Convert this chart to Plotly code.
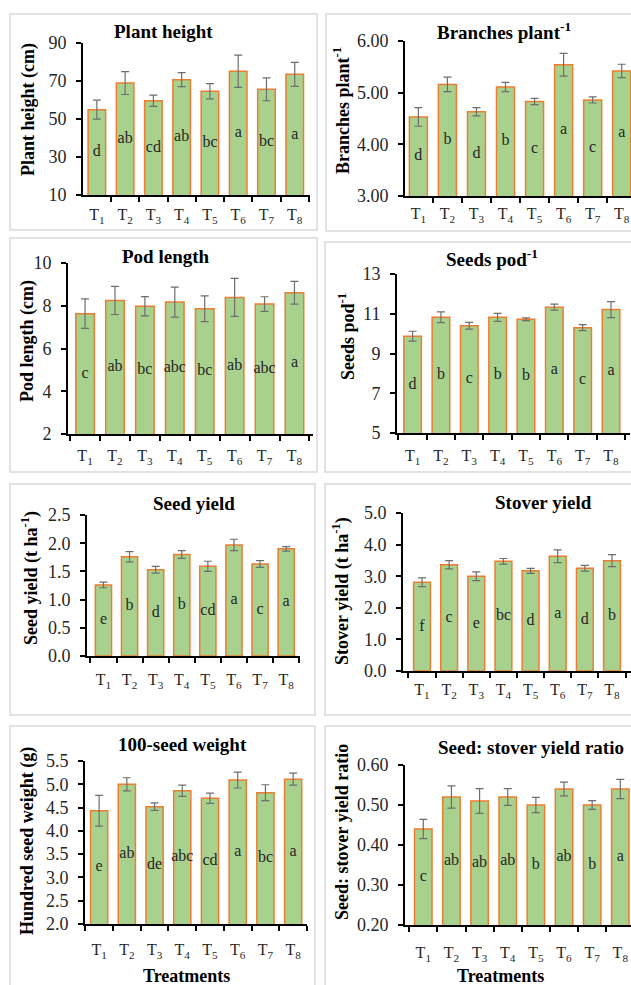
import plotly.graph_objects as go

W, H = 631, 1000
# the photographed page maps figure pixel row y to picture row 9 + 0.98*y
OFF, SCALE = 9.0, 0.98

treatments = ["T1", "T2", "T3", "T4", "T5", "T6", "T7", "T8"]
tick_labels = ["T<sub>1</sub>", "T<sub>2</sub>", "T<sub>3</sub>", "T<sub>4</sub>",
               "T<sub>5</sub>", "T<sub>6</sub>", "T<sub>7</sub>", "T<sub>8</sub>"]

plant_height = [54.9, 68.9, 59.6, 70.7, 64.6, 75.1, 65.6, 73.5]
plant_height_err = [5.0, 6.0, 3.0, 3.7, 4.0, 8.5, 6.0, 6.3]
plant_height_letters = ["d", "ab", "cd", "ab", "bc", "a", "bc", "a"]

branches = [4.53, 5.16, 4.63, 5.11, 4.83, 5.54, 4.86, 5.42]
branches_err = [0.18, 0.14, 0.08, 0.09, 0.06, 0.22, 0.06, 0.13]
branches_letters = ["d", "b", "d", "b", "c", "a", "c", "a"]

pod_length = [7.63, 8.25, 7.98, 8.17, 7.86, 8.39, 8.08, 8.61]
pod_length_err = [0.69, 0.66, 0.45, 0.70, 0.60, 0.89, 0.34, 0.53]
pod_length_letters = ["c", "ab", "bc", "abc", "bc", "ab", "abc", "a"]

seeds_pod = [9.87, 10.82, 10.40, 10.82, 10.72, 11.33, 10.30, 11.21]
seeds_pod_err = [0.25, 0.27, 0.17, 0.20, 0.07, 0.15, 0.15, 0.40]
seeds_pod_letters = ["d", "b", "c", "b", "b", "a", "c", "a"]

seed_yield = [1.26, 1.76, 1.53, 1.80, 1.59, 1.97, 1.63, 1.90]
seed_yield_err = [0.05, 0.09, 0.06, 0.07, 0.09, 0.10, 0.06, 0.04]
seed_yield_letters = ["e", "b", "d", "b", "cd", "a", "c", "a"]

stover_yield = [2.81, 3.36, 3.00, 3.47, 3.17, 3.63, 3.25, 3.49]
stover_yield_err = [0.14, 0.13, 0.14, 0.09, 0.08, 0.20, 0.09, 0.19]
stover_yield_letters = ["f", "c", "e", "bc", "d", "a", "d", "b"]

seed_weight = [4.43, 5.00, 4.52, 4.86, 4.70, 5.09, 4.82, 5.11]
seed_weight_err = [0.33, 0.14, 0.08, 0.12, 0.11, 0.17, 0.17, 0.13]
seed_weight_letters = ["e", "ab", "de", "abc", "cd", "a", "bc", "a"]

ratio = [0.44, 0.52, 0.51, 0.52, 0.50, 0.54, 0.50, 0.54]
ratio_err = [0.024, 0.028, 0.031, 0.021, 0.019, 0.017, 0.011, 0.024]
ratio_letters = ["c", "ab", "ab", "ab", "b", "ab", "b", "a"]

FONT = "Liberation Serif"
FILL = "#a9d18e"
EDGE = "#ed7d31"

panels = [
    dict(title="Plant height", ytitle="Plant height (cm)", y=plant_height, e=plant_height_err,
         lab=plant_height_letters, yr=(10, 90), dt=20, fmt="d",
         px=(83, 310), py=(42, 194), xr=(-0.49, 7.54), box=(10, 13, 317, 229),
         tpos=(163, 30), ypos=(28, 109), standoff=4),
    dict(title="Branches plant<sup>-1</sup>", ytitle="Branches plant<sup>-1</sup>", y=branches, e=branches_err,
         lab=branches_letters, yr=(3, 6), dt=1, fmt=".2f",
         px=(405, 631), py=(40, 195), xr=(-0.46, 7.32), box=(326, 13, 640, 230),
         tpos=(504, 30), ypos=(341, 110), standoff=2),
    dict(title="Pod length", ytitle="Pod length (cm)", y=pod_length, e=pod_length_err,
         lab=pod_length_letters, yr=(2, 10), dt=2, fmt="d",
         px=(68, 313), py=(262, 433), xr=(-0.57, 7.62), box=(10, 237, 317, 471),
         tpos=(166, 255), ypos=(28, 340), standoff=6),
    dict(title="Seeds pod<sup>-1</sup>", ytitle="Seeds pod<sup>-1</sup>", y=seeds_pod, e=seeds_pod_err,
         lab=seeds_pod_letters, yr=(5, 13), dt=2, fmt="d",
         px=(397, 630), py=(273, 432), xr=(-0.55, 7.67), box=(325, 241, 640, 471),
         tpos=(492, 257), ypos=(346, 336), standoff=7),
    dict(title="Seed yield", ytitle="Seed yield (t ha<sup>-1</sup>)", y=seed_yield, e=seed_yield_err,
         lab=seed_yield_letters, yr=(0, 2.5), dt=0.5, fmt=".1f",
         px=(87, 300), py=(514, 655), xr=(-0.63, 7.53), box=(10, 483, 315, 714),
         tpos=(194, 503), ypos=(30, 577), standoff=8),
    dict(title="Stover yield", ytitle="Stover yield (t ha<sup>-1</sup>)", y=stover_yield, e=stover_yield_err,
         lab=stover_yield_letters, yr=(0, 5), dt=1, fmt=".1f",
         px=(403, 631), py=(512, 670), xr=(-0.70, 7.70), box=(325, 483, 640, 714),
         tpos=(543, 501), ypos=(341, 590), standoff=3),
    dict(title="100-seed weight", ytitle="Hundred seed weight (g)", y=seed_weight, e=seed_weight_err,
         lab=seed_weight_letters, yr=(2, 5.5), dt=0.5, fmt=".1f",
         px=(85, 307), py=(760, 923), xr=(-0.51, 7.5), box=(10, 725, 315, 1010),
         tpos=(182, 743), ypos=(27, 840), standoff=10, xtitle=(186, 975)),
    dict(title="Seed: stover yield ratio", ytitle="Seed: stover yield ratio", y=ratio, e=ratio_err,
         lab=ratio_letters, yr=(0.2, 0.6), dt=0.1, fmt=".2f",
         px=(405, 631), py=(764, 924), xr=(-0.65, 7.38), box=(325, 725, 640, 1010),
         tpos=(531, 746), ypos=(342, 831), standoff=12, xtitle=(500, 975)),
]


def fx(p):
    return p / W


def fy(p):
    # p is a target picture pixel row; convert to figure paper coordinate
    return 1 - ((p - OFF) / SCALE) / H


fig = go.Figure()
annotations = []
shapes = []

for i, p in enumerate(panels, start=1):
    xa = "x" if i == 1 else f"x{i}"
    ya = "y" if i == 1 else f"y{i}"
    ymin = p["yr"][0]
    fig.add_trace(go.Bar(
        x=treatments, y=p["y"], width=0.62,
        marker=dict(color=FILL, line=dict(color=EDGE, width=1.5)),
        error_y=dict(type="data", array=p["e"], color="#6e6e6e", thickness=1.2, width=4),
        xaxis=xa, yaxis=ya, showlegend=False,
    ))
    fig.add_trace(go.Scatter(
        x=treatments, y=[(ymin + v) / 2 for v in p["y"]], mode="text", text=p["lab"],
        textfont=dict(family=FONT, size=16, color="#262626"),
        xaxis=xa, yaxis=ya, showlegend=False, hoverinfo="skip",
    ))
    xkey = "xaxis" if i == 1 else f"xaxis{i}"
    ykey = "yaxis" if i == 1 else f"yaxis{i}"
    fig.layout[xkey] = dict(
        domain=[fx(p["px"][0]), fx(p["px"][1])], anchor=ya, type="category",
        range=list(p["xr"]), tickmode="array", tickvals=treatments, ticktext=tick_labels,
        tickson="boundaries", ticks="outside", ticklen=5, tickwidth=1.5, tickcolor="black",
        showline=True, linecolor="black", linewidth=2, showgrid=False,
        tickfont=dict(family=FONT, size=16, color="#262626"), ticklabelstandoff=p["standoff"],
        fixedrange=True,
    )
    fig.layout[ykey] = dict(
        domain=[fy(p["py"][1]), fy(p["py"][0])], anchor=xa,
        range=list(p["yr"]), tick0=ymin, dtick=p["dt"], tickformat=p["fmt"],
        ticks="outside", ticklen=5, tickwidth=1.5, tickcolor="black",
        showline=True, linecolor="black", linewidth=2, showgrid=False, zeroline=False,
        tickfont=dict(family=FONT, size=18, color="#262626"), ticklabelstandoff=6,
        fixedrange=True,
    )
    x0, y0, x1, y1 = p["box"]
    shapes.append(dict(type="rect", xref="paper", yref="paper",
                       x0=fx(x0), x1=fx(x1), y0=fy(y1), y1=fy(y0),
                       line=dict(color="#d9d9d9", width=1.5), layer="below"))
    annotations.append(dict(text=f"<b>{p['title']}</b>", xref="paper", yref="paper",
                            x=fx(p["tpos"][0]), y=fy(p["tpos"][1]), showarrow=False,
                            xanchor="center", yanchor="middle",
                            font=dict(family=FONT, size=19, color="black")))
    annotations.append(dict(text=f"<b>{p['ytitle']}</b>", xref="paper", yref="paper",
                            x=fx(p["ypos"][0]), y=fy(p["ypos"][1]), showarrow=False,
                            textangle=-90, xanchor="center", yanchor="middle",
                            font=dict(family=FONT, size=18, color="black")))
    if "xtitle" in p:
        annotations.append(dict(text="<b>Treatments</b>", xref="paper", yref="paper",
                                x=fx(p["xtitle"][0]), y=fy(p["xtitle"][1]), showarrow=False,
                                xanchor="center", yanchor="middle",
                                font=dict(family=FONT, size=18, color="black")))

fig.update_layout(
    width=W, height=H, margin=dict(l=0, r=0, t=0, b=0),
    paper_bgcolor="white", plot_bgcolor="white",
    shapes=shapes, annotations=annotations, bargap=0.3,
)

fig.write_html(
    "out.html",
    config={"displayModeBar": False},
    post_script="document.body.style.margin='0';document.body.style.overflow='hidden';"
                "document.documentElement.style.overflow='hidden';",
)
